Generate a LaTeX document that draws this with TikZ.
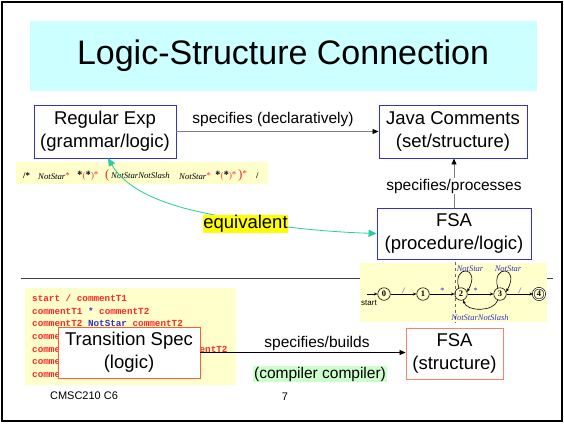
\documentclass[tikz,border=0pt]{standalone}
\usepackage{fontspec}
\setmainfont{Liberation Sans}
\newfontfamily\serifrm{Liberation Serif}
\newfontfamily\monofam{Liberation Mono}
\usetikzlibrary{arrows.meta}
\definecolor{titlecyan}{RGB}{204,255,255}
\definecolor{boxblue}{RGB}{51,51,204}
\definecolor{boxred}{RGB}{255,90,60}
\definecolor{boxsalmon}{RGB}{255,128,100}
\definecolor{paleyellow}{RGB}{255,255,204}
\definecolor{eqgreen}{RGB}{40,204,160}
\definecolor{hlyellow}{RGB}{255,255,0}
\definecolor{palegreen}{RGB}{204,255,204}
\definecolor{codered}{RGB}{255,40,40}
\definecolor{labblue}{RGB}{51,51,204}
\newcommand\rstar{\textcolor{codered}{\raisebox{1.5pt}{\fontsize{9}{9}\selectfont*}}}
\newcommand\bigred[1]{\textcolor{codered}{\fontsize{13}{13}\selectfont #1}}
\newcommand\bstar{{\sffamily\bfseries\fontsize{10}{10}\selectfont *}}
\newcommand\stargroup{\bstar\textcolor{codered}{(}\bstar\textcolor{codered}{)}\rstar}
\begin{document}
\begin{tikzpicture}[x=1pt,y=-1pt,
  bigtext/.style={font=\fontsize{18.5}{23}\selectfont, align=center},
  bluebox/.style={bigtext, draw=boxblue, line width=0.9pt, fill=white, inner sep=0pt},
  redbox/.style={bigtext, draw=boxred, line width=0.9pt, fill=white, inner sep=0pt},
  lab/.style={font=\fontsize{15.5}{18}\selectfont, inner sep=1pt},
  grayarr/.style={draw=gray, line width=0.8pt, -{Triangle[length=6pt,width=5pt,fill=black,color=black]}},
  blackarr/.style={draw=black, line width=0.8pt, -{Triangle[length=6pt,width=5pt]}},
  eqarr/.style={draw=eqgreen, line width=0.8pt, {Triangle[length=8pt,width=7pt]}-{Triangle[length=8pt,width=7pt]}},
  code/.style={font=\monofam\bfseries\fontsize{9.3}{10}\selectfont, text=codered, anchor=west, inner sep=0pt},
  rxt/.style={font=\serifrm\fontsize{8.7}{9}\selectfont, inner sep=0pt, anchor=west},
  st/.style={circle, draw, line width=0.6pt, minimum size=12.5pt, inner sep=0pt, font=\serifrm\bfseries\fontsize{8.5}{8.5}\selectfont},
  stlab/.style={font=\serifrm\itshape\fontsize{8.5}{9}\selectfont, text=labblue, inner sep=0.5pt},
  smarr/.style={line width=0.6pt, -{Stealth[length=3.5pt,width=3pt]}}
]
\useasboundingbox (0,0) rectangle (564,424);
\fill[white] (0,0) rectangle (564,424);
\draw[line width=1.5pt] (2,2) rectangle (562,421);
% title
\fill[titlecyan] (30,21) rectangle (537,91);
\node[font=\fontsize{34}{40}\selectfont] (title) at (283,56) {Logic-Structure Connection};
% separator line
\draw[line width=1pt, black!75] (21,278) -- (553,278);
% regex strip
\fill[paleyellow] (16,162) rectangle (268,184);
\node[rxt] (rx1) at (23,176) {\textbf{/*}};
\node[rxt] (rx2) at (38,176) {\textit{NotStar}\rstar};
\node[rxt] (rx3) at (77,176) {\stargroup};
\node[rxt] (rx4) at (105,175) {\bigred{(}};
\node[rxt] (rx5) at (111,176) {\textit{NotStarNotSlash}};
\node[rxt] (rx6) at (179,176) {\textit{NotStar}\rstar};
\node[rxt] (rx7) at (215,176) {\stargroup};
\node[rxt] (rx8) at (238,175) {\bigred{)}\rstar};
\node[rxt] (rx9) at (256,176) {\textbf{/}};
% main boxes
\node[bluebox, minimum width=142pt, minimum height=53pt] (re) at (105,131.5) {Regular Exp\\(grammar/logic)};
\node[bluebox, minimum width=148pt, minimum height=53pt] (java) at (453,131.5) {Java Comments\\(set/structure)};
\node[bluebox, minimum width=154pt, minimum height=51pt] (fsap) at (454,233.5) {FSA\\(procedure/logic)};
% connectors top
\draw[grayarr] (re.east) -- (java.west);
\node[lab] (l1) at (273,119) {specifies (declaratively)};
\draw[grayarr] (fsap.north) -- (fsap.north |- java.south);
\node[lab, fill=white] (l2) at (454,186) {specifies/processes};
% equivalent
\coordinate (reb) at (108,158);
\draw[eqarr] (reb) .. controls (125,188) and (160,204) .. (205,213) .. controls (240,221) and (300,231) .. (fsap.west);
\node[font=\fontsize{18.5}{22}\selectfont, fill=hlyellow, inner sep=0.5pt] (eq) at (245.5,224) {equivalent};
% FSA diagram
\fill[paleyellow] (360,263) rectangle (547,322);
\draw[black!60, dashed, line width=0.5pt] (455,262) -- (455,323);
\node[st] (s0) at (384,294) {0};
\node[st] (s1) at (423,294) {1};
\node[st] (s2) at (461,294) {2};
\node[st] (s3) at (500,294) {3};
\node[st, double, double distance=1pt, minimum size=11.5pt] (s4) at (539,294) {4};
\node[font=\fontsize{8}{8}\selectfont, inner sep=0pt] (startlab) at (369,303) {start};
\coordinate (sin) at (367,294);
\draw[smarr] (sin) -- (s0);
\draw[smarr] (s0) -- node[stlab, above] {/} (s1);
\draw[smarr] (s1) -- node[stlab, above] {*} (s2);
\draw[smarr] (s2) -- node[stlab, above, pos=0.3] {*} (s3);
\draw[smarr] (s3) -- node[stlab, above] {/} (s4);
\draw[smarr] (s2.110) .. controls (452,264) and (482,266) .. (s2.20);
\draw[smarr] (s3.110) .. controls (491,264) and (521,266) .. (s3.20);
\node[stlab] (ns1) at (470,269) {NotStar};
\node[stlab] (ns2) at (508,269) {NotStar};
\draw[smarr] (s3.250) .. controls (494,312) and (467,312) .. (s2.290);
\node[stlab] (nsns) at (480,318) {NotStarNotSlash};
% transition spec code
\fill[paleyellow] (25,288) rectangle (236,385);
\node[code] (c1) at (32,298) {start / commentT1};
\node[code] (c2) at (32,310.7) {commentT1 \textcolor{labblue}{*} commentT2};
\node[code] (c3) at (32,323.4) {commentT2 \textcolor{labblue}{NotStar} commentT2};
\node[code] (c4) at (32,336.1) {commentT2 * commentT3};
\node[code] (c5) at (32,348.8) {commentT3 NotStarNotSlash commentT2};
\node[code] (c6) at (32,361.5) {commentT3 * commentT3};
\node[code] (c7) at (32,374.2) {commentT3 / end};
\node[redbox, minimum width=142pt, minimum height=51pt] (ts) at (129,352.5) {Transition Spec\\(logic)};
\node[bigtext, draw=boxsalmon, line width=0.9pt, fill=white, inner sep=0pt, minimum width=97pt, minimum height=51pt] (fsas) at (454.5,353.5) {FSA\\(structure)};
\draw[blackarr] (ts.east) -- (ts.east -| fsas.west);
\node[lab] (l3) at (317,343) {specifies/builds};
\node[lab, fill=palegreen] (cc) at (320,374) {(compiler compiler)};
% footer
\node[font=\fontsize{11}{12}\selectfont] (foot) at (84,396) {CMSC210 C6};
\node[font=\fontsize{11}{12}\selectfont] (page) at (285,397) {7};
\end{tikzpicture}
\end{document}
